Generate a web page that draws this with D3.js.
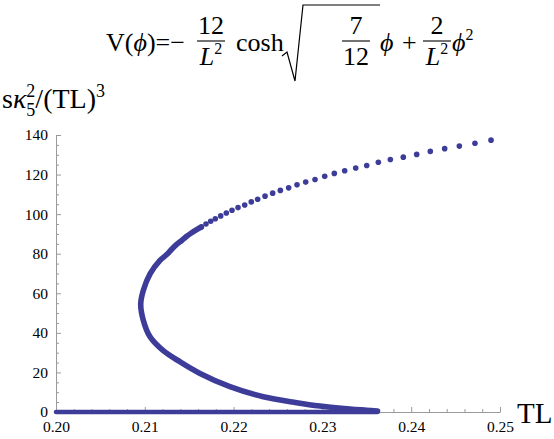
<!DOCTYPE html>
<html><head><meta charset="utf-8">
<script src="https://cdn.jsdelivr.net/npm/d3@7"></script>
<style>
html,body{margin:0;padding:0;background:#fff;}
svg{display:block;}
svg text{font-family:"Liberation Serif",serif;}
</style></head>
<body>
<svg id="c" width="554" height="439"></svg>
<script>
// ---- data ----
// dense (solid-looking) part of the branch, from where the dots merge, round the nose, down to s≈0
const solidTL = [0.21636,0.21584,0.21528,0.21472,0.21416,0.21359,0.21303,0.21247,0.21171,0.21059,0.20983,0.20954,0.20983,0.21059,0.21208,0.21396,0.21622,0.21959,0.22334,0.22710,0.22973,0.23311,0.23499,0.23621];
const solidS  = [93.5,92.2,90.6,88.8,86.7,84.7,82.3,79.6,76.6,69.8,61.4,54.6,46.4,38.0,31.0,25.4,19.5,12.8,7.7,4.7,3.0,1.5,0.9,0.5];
// separate dots on the upper branch
const dotTL = [0.21636,0.21689,0.21742,0.21794,0.21855,0.21918,0.21982,0.22050,0.22125,0.22199,0.22271,0.22354,0.22440,0.22526,0.22620,0.22714,0.22812,0.22917,0.23026,0.23134,0.23251,0.23375,0.23499,0.23630,0.23765,0.23911,0.24062,0.24215,0.24377,0.24542,0.24718,0.24899];
const dotS  = [93.5,95.0,96.4,97.7,99.1,100.6,102.0,103.3,104.6,106.2,107.5,109.1,110.6,112.0,113.3,114.8,116.2,117.5,119.1,120.6,121.9,123.3,124.6,126.2,127.6,128.8,130.2,131.7,133.1,134.4,135.8,137.4];
// trivial branch s = 0
const zeroTL = [0.200,0.2362];
const zeroS  = [0,0];
const xTicks = [0.20,0.21,0.22,0.23,0.24,0.25];
const yTicks = [0,20,40,60,80,100,120,140];

const COLOR = "#3d3d99", AXIS = "#9a9a9a";
const svg = d3.select("#c");
const x = d3.scaleLinear().domain([0.20,0.25]).range([56,500]);
const y = d3.scaleLinear().domain([0,140]).range([412,135]);

// minor ticks
const xMinor = d3.range(0.200,0.2501,0.002).filter(v=>!xTicks.some(t=>Math.abs(t-v)<1e-6));
const yMinor = d3.range(0,141,5).filter(v=>v%20!==0);
svg.append("g").attr("transform",`translate(0,${y(0)})`)
  .call(d3.axisBottom(x).tickValues(xMinor).tickSizeInner(-3).tickSizeOuter(0).tickFormat(""))
  .call(g=>g.select(".domain").remove()).selectAll("line").attr("stroke",AXIS);
svg.append("g").attr("transform",`translate(${x(0.20)},0)`)
  .call(d3.axisLeft(y).tickValues(yMinor).tickSizeInner(-3).tickSizeOuter(0).tickFormat(""))
  .call(g=>g.select(".domain").remove()).selectAll("line").attr("stroke",AXIS);

const gx = svg.append("g").attr("transform",`translate(0,${y(0)})`)
  .call(d3.axisBottom(x).tickValues(xTicks).tickSizeInner(-5).tickSizeOuter(0).tickPadding(9).tickFormat(d3.format(".2f")));
gx.attr("font-family","Liberation Serif").attr("font-size",15.5);
gx.select(".domain").attr("stroke",AXIS);
gx.selectAll("line").attr("stroke",AXIS);
gx.selectAll("text").attr("font-family","Liberation Serif").attr("fill","#000");

const gy = svg.append("g").attr("transform",`translate(${x(0.20)},0)`)
  .call(d3.axisLeft(y).tickValues(yTicks).tickSizeInner(-5).tickSizeOuter(0).tickPadding(8));
gy.attr("font-family","Liberation Serif").attr("font-size",15.5);
gy.select(".domain").attr("stroke",AXIS);
gy.selectAll("line").attr("stroke",AXIS);
gy.selectAll("text").attr("font-family","Liberation Serif").attr("fill","#000");

// data marks
const line = d3.line().x(d=>x(d[0])).y(d=>y(d[1])).curve(d3.curveCatmullRom);
svg.append("path").datum(zeroTL.map((t,i)=>[t,zeroS[i]]))
  .attr("d",d3.line().x(d=>x(d[0])).y(d=>y(d[1])))
  .attr("stroke",COLOR).attr("stroke-width",4.5).attr("stroke-linecap","round").attr("fill","none");
svg.append("path").datum(solidTL.map((t,i)=>[t,solidS[i]]))
  .attr("d",line).attr("stroke",COLOR).attr("stroke-width",5.6).attr("stroke-linecap","round").attr("fill","none");
svg.append("g").selectAll("circle").data(dotTL.map((t,i)=>[t,dotS[i]])).join("circle")
  .attr("cx",d=>x(d[0])).attr("cy",d=>y(d[1])).attr("r",2.8).attr("fill",COLOR);

// axis labels
svg.append("text").attr("x",517).attr("y",423).attr("font-size",29).text("TL");
const yl = svg.append("text").attr("x",2).attr("y",108).attr("font-size",28);
yl.append("tspan").text("s");
yl.append("tspan").attr("font-style","italic").text("κ");
yl.append("tspan").attr("font-size",18).attr("dy",-11).text("2");
yl.append("tspan").attr("font-size",18).attr("dx",-9).attr("dy",19).text("5");
yl.append("tspan").attr("dy",-8).text("/(TL)");
yl.append("tspan").attr("font-size",18).attr("dy",-11).text("3");

// title formula
const T = svg.append("g").attr("font-size",26);
const t1 = T.append("text").attr("x",106).attr("y",51);
t1.append("tspan").text("V(");
t1.append("tspan").attr("font-style","italic").text("ϕ");
t1.append("tspan").text(")=−");
function frac(cx, num, denItalic, denSup){
  T.append("text").attr("x",cx).attr("y",34).attr("text-anchor","middle").text(num);
  T.append("line").attr("x1",cx-14).attr("x2",cx+14).attr("y1",41).attr("y2",41).attr("stroke","#000").attr("stroke-width",1.1);
  const d = T.append("text").attr("x",cx).attr("y",65).attr("text-anchor","middle");
  d.append("tspan").attr("font-style",denItalic?"italic":null).text(denItalic||"12");
  if(denSup) d.append("tspan").attr("font-size",16).attr("dy",-11).text(denSup);
}
frac(211,"12","L","2");
T.append("text").attr("x",236).attr("y",51).text("cosh");
T.append("path").attr("d","M282,56 L287,52 L295,81 L303,5 L380,5").attr("fill","none").attr("stroke","#000").attr("stroke-width",1.2);
frac(356,"7",null,null);
T.append("text").attr("x",380).attr("y",51).attr("font-style","italic").text("ϕ");
T.append("text").attr("x",402).attr("y",51).text("+");
frac(437,"2","L","2");
const t4 = T.append("text").attr("x",452).attr("y",51);
t4.append("tspan").attr("font-style","italic").text("ϕ");
t4.append("tspan").attr("font-size",16).attr("dy",-11).text("2");
</script>
</body></html>
